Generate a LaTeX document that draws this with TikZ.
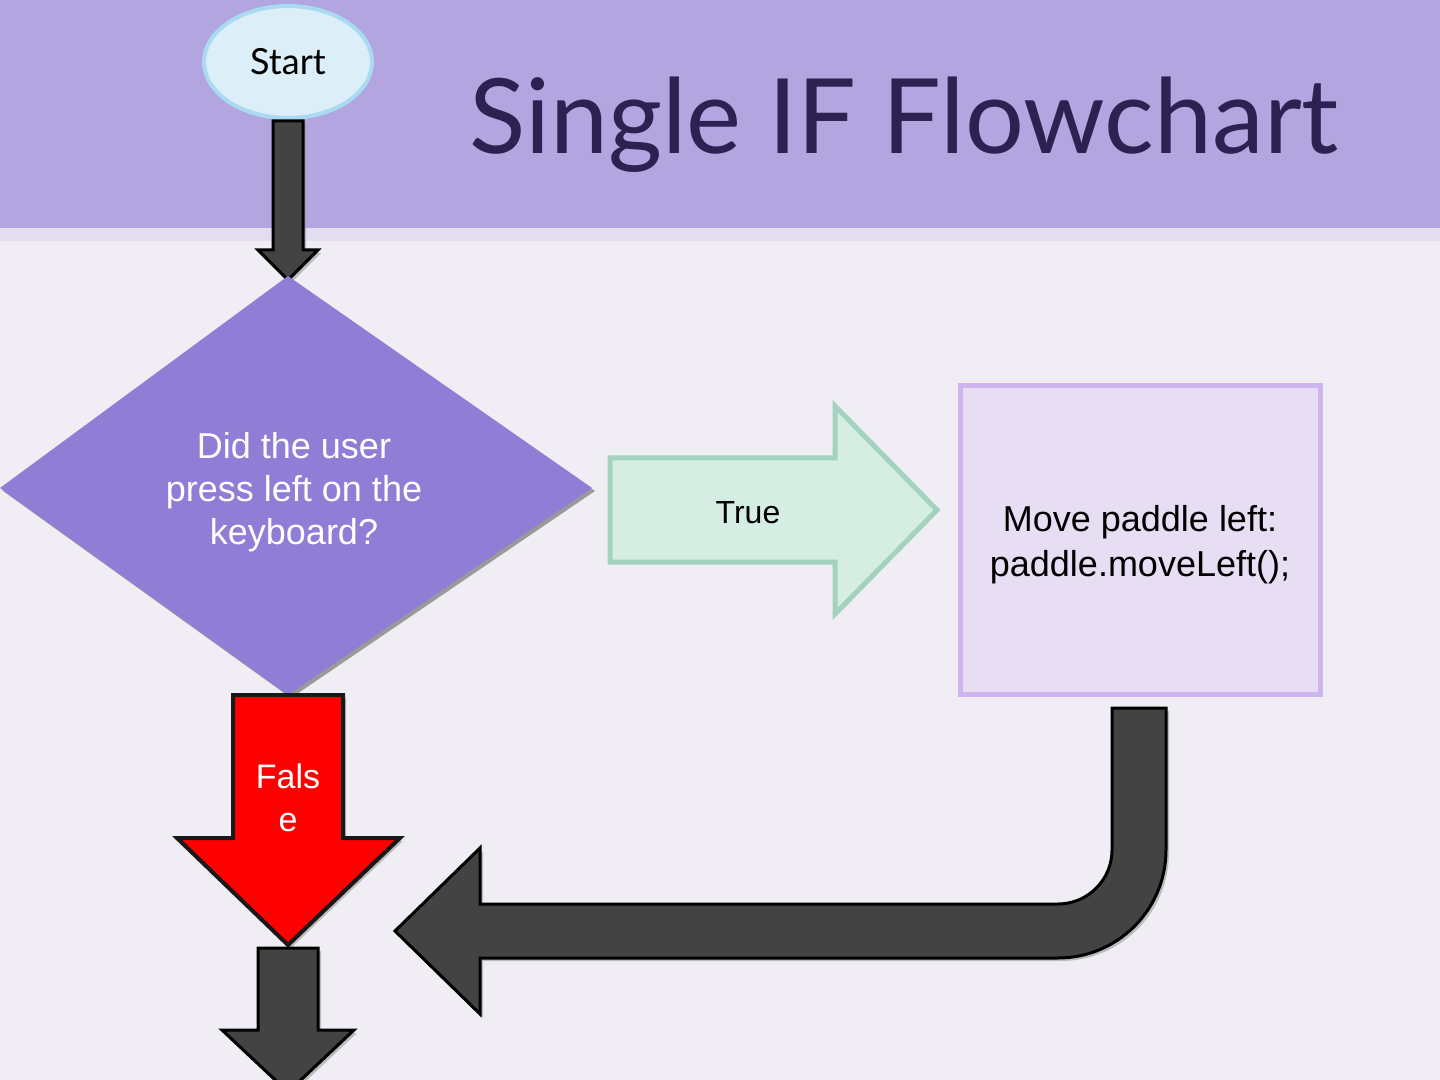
\documentclass[tikz,border=0pt]{standalone}
\usepackage{fontspec}
\setmainfont{Liberation Sans}
\newfontfamily\titlefont{Lato}
\usetikzlibrary{shapes.geometric}
\definecolor{banner}{HTML}{B2A5E0}
\definecolor{band}{HTML}{E2DDEF}
\definecolor{paper}{HTML}{F0EEF4}
\definecolor{titlecol}{HTML}{2D2152}
\definecolor{startfill}{HTML}{DCEEF7}
\definecolor{startline}{HTML}{A9DAF2}
\definecolor{decfill}{HTML}{8F7DD6}
\definecolor{truefill}{HTML}{D5EDE2}
\definecolor{trueline}{HTML}{A3D3BE}
\definecolor{boxfill}{HTML}{E7DEF4}
\definecolor{boxline}{HTML}{CEB5EF}
\definecolor{darkarrow}{HTML}{434343}
\definecolor{shadowgray}{HTML}{9A9A9A}
\begin{document}
\begin{tikzpicture}[x=0.5pt,y=-0.5pt,
  lbl/.style={font=\fontsize{18pt}{21.5pt}\selectfont, align=center, inner sep=0pt},
  darkblock/.style={fill=darkarrow, draw=black, line width=1.5pt, line join=miter},
  shadowblock/.style={fill=shadowgray, opacity=0.6}]
% background
\fill[paper] (0,0) rectangle (1440,1080);
\fill[band] (0,228) rectangle (1440,241);
\fill[banner] (0,0) rectangle (1440,228);
\useasboundingbox (0,0) rectangle (1440,1080);

% title
\node[text=titlecol, font=\titlefont\fontsize{52pt}{58pt}\selectfont, inner sep=0pt] (title) at (904,125) {Single IF Flowchart};

% start ellipse
\node[ellipse, fill=startfill, draw=startline, line width=2pt, minimum width=84pt, minimum height=56pt, inner sep=0pt,
  font=\titlefont\fontsize{18pt}{21.5pt}\selectfont] (start) at (288,62) {Start};

% arrow start -> decision
\fill[shadowblock] (276,123) -- (306,123) -- (306,253) -- (321,253) -- (291,283) -- (261,253) -- (276,253) -- cycle;
\draw[darkblock] (273,121) -- (303,121) -- (303,250) -- (318,250) -- (288,280) -- (258,250) -- (273,250) -- cycle;

% decision diamond
\coordinate (dtop) at (288,276);
\coordinate (dleft) at (0,488);
\coordinate (dright) at (592,488);
\coordinate (dbot) at (288,695);
\fill[shadowgray] ([xshift=1.5pt,yshift=-1.5pt]dtop) -- ([xshift=1.5pt,yshift=-1.5pt]dright) -- ([xshift=1.5pt,yshift=-1.5pt]dbot) -- ([xshift=1.5pt,yshift=-1.5pt]dleft) -- cycle;
\fill[decfill] (dtop) -- (dright) -- (dbot) -- (dleft) -- cycle;
\node[lbl, text=white] (dec) at (294,492) {Did the user\\press left on the\\keyboard?};

% True arrow
\draw[fill=truefill, draw=trueline, line width=2.5pt, line join=miter]
  (610,458) -- (835,458) -- (835,406) -- (937,510) -- (835,614) -- (835,562) -- (610,562) -- cycle;
\node[lbl, font=\fontsize{16pt}{20pt}\selectfont] (tru) at (748,513) {True};

% process box
\node[rectangle, fill=boxfill, draw=boxline, line width=2.5pt, minimum width=180pt, minimum height=154pt,
  lbl, font=\fontsize{18pt}{22.5pt}\selectfont] (proc) at (1140,540) {};
\node[lbl, font=\fontsize{18pt}{22.5pt}\selectfont] (proctext) at (1140,545) {Move paddle left:\\paddle.moveLeft();};

% False arrow
\fill[shadowblock] (236,698) -- (346,698) -- (346,841) -- (403,841) -- (291,948) -- (181,841) -- (236,841) -- cycle;
\draw[fill=red, draw=black!90, line width=2pt, line join=miter]
  (233,695) -- (343,695) -- (343,838) -- (400,838) -- (288,945) -- (177,838) -- (233,838) -- cycle;
\node[lbl, text=white, font=\fontsize{17pt}{21.5pt}\selectfont] (fls) at (288,798) {Fals\\e};

% bottom arrow
\fill[shadowblock] (261,951) -- (321,951) -- (321,1033) -- (357,1033) -- (291,1095) -- (225,1033) -- (261,1033) -- cycle;
\draw[darkblock] (258,948) -- (318,948) -- (318,1030) -- (354,1030) -- (288,1092) -- (222,1030) -- (258,1030) -- cycle;

% return arrow from box
\fill[shadowblock] (1115,711) -- (1115,853) .. controls (1115,882.8) and (1090.8,907) .. (1061,907) -- (483,907) -- (483,851) -- (398,934) -- (483,1017) -- (483,961) -- (1061,961) .. controls (1120.6,961) and (1169,912.6) .. (1169,853) -- (1169,711) -- cycle;
\draw[darkblock] (1112,708) -- (1112,850) .. controls (1112,879.8) and (1087.8,904) .. (1058,904) -- (480,904) -- (480,848) -- (395,931) -- (480,1014) -- (480,958) -- (1058,958) .. controls (1117.6,958) and (1166,909.6) .. (1166,850) -- (1166,708) -- cycle;
\end{tikzpicture}
\end{document}
